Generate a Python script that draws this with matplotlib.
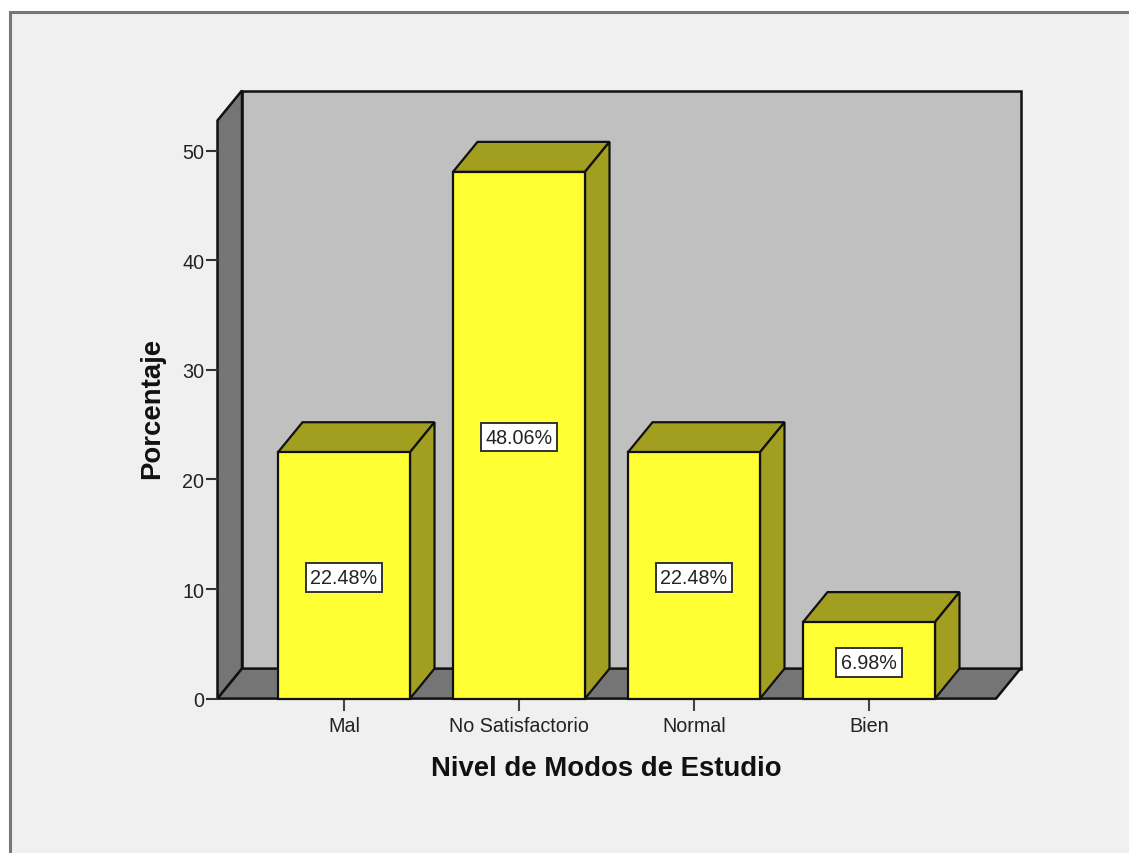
import matplotlib
matplotlib.use("Agg")
import matplotlib.pyplot as plt
from matplotlib.patches import Polygon, Rectangle

categorias = ["Mal", "No Satisfactorio", "Normal", "Bien"]
porcentajes = [22.48, 48.06, 22.48, 6.98]
etiquetas = ["22.48%", "48.06%", "22.48%", "6.98%"]
yticks = [0, 10, 20, 30, 40, 50]

W, H = 1129, 854
# pixeles de la imagen
x0_px, x_paso = 344, 175
y0_px, y_unidad = 699.6, 10.96
izq_px, der_px, arr_px = 217.5, 1020.5, 91.5
dx = 24.5 / x_paso     # profundidad 3d en unidades de datos
dy = 30 / y_unidad
ancho = 132 / x_paso
x_izq = (izq_px - x0_px) / x_paso
x_der = (der_px - x0_px) / x_paso
y_arr = (y0_px - arr_px) / y_unidad

plt.rcParams["font.family"] = ["Liberation Sans", "DejaVu Sans"]
fig = plt.figure(figsize=(W / 100, H / 100), dpi=100, facecolor="white")

# panel de fondo con borde gris
fondo = fig.add_axes([0, 0, 1, 1])
fondo.set_xlim(0, W)
fondo.set_ylim(H, 0)
fondo.axis("off")
fondo.add_patch(Rectangle((10, 13), W + 30, H + 30, facecolor="#f0f0f0", edgecolor="#777777", lw=2.2))

ax = fig.add_axes([izq_px / W, 1 - y0_px / H, (der_px - izq_px) / W, (y0_px - arr_px) / H])
ax.set_xlim(x_izq, x_der)
ax.set_ylim(0, y_arr)
ax.patch.set_visible(False)
for s in ax.spines.values():
    s.set_visible(False)

negro = "#111111"
x_front_der = x_der - dx
y_front_arr = y_arr - dy
# pared del fondo, pared lateral y piso
ax.add_patch(Polygon([(x_izq + dx, dy), (x_der, dy), (x_der, y_arr), (x_izq + dx, y_arr)],
                     facecolor="#c0c0c0", edgecolor=negro, lw=1.8, clip_on=False))
ax.add_patch(Polygon([(x_izq, 0), (x_izq + dx, dy), (x_izq + dx, y_arr), (x_izq, y_front_arr)],
                     facecolor="#757575", edgecolor=negro, lw=1.8, clip_on=False))
ax.add_patch(Polygon([(x_izq, 0), (x_front_der, 0), (x_der, dy), (x_izq + dx, dy)],
                     facecolor="#757575", edgecolor=negro, lw=1.8, clip_on=False))

for i, (v, et) in enumerate(zip(porcentajes, etiquetas)):
    a = i - ancho / 2
    b = i + ancho / 2
    ax.add_patch(Polygon([(a, v), (b, v), (b + dx, v + dy), (a + dx, v + dy)],
                         facecolor="#a29e20", edgecolor=negro, lw=1.6, zorder=3, clip_on=False))
    ax.add_patch(Polygon([(b, 0), (b + dx, dy), (b + dx, v + dy), (b, v)],
                         facecolor="#a29e20", edgecolor=negro, lw=1.6, zorder=3, clip_on=False))
    ax.add_patch(Rectangle((a, 0), ancho, v, facecolor="#ffff33", edgecolor=negro, lw=1.6, zorder=4, clip_on=False))
    ax.text(i, v / 2, et, ha="center", va="center_baseline", fontsize=14.2, color="#222222", zorder=5,
            bbox=dict(boxstyle="square,pad=0.24", facecolor="white", edgecolor="#333333", lw=1.4))

ax.set_yticks(yticks)
ax.set_xticks(range(len(categorias)))
ax.set_xticklabels(categorias)
ax.tick_params(axis="y", length=8.6, width=1.5, color="#333333", labelsize=14.2, labelcolor="#222222", pad=1)
ax.tick_params(axis="x", length=8.6, width=1.5, color="#444444", labelsize=14.2, labelcolor="#222222", pad=4)

fondo.text(606, 769, "Nivel de Modos de Estudio", ha="center", va="center", fontsize=19.8,
           fontweight="bold", color="#111111")
fondo.text(152, 408, "Porcentaje", ha="center", va="center", rotation=90, fontsize=19.8,
           fontweight="bold", color="#111111")

fig.savefig("out.png", dpi=100, facecolor=fig.get_facecolor())
